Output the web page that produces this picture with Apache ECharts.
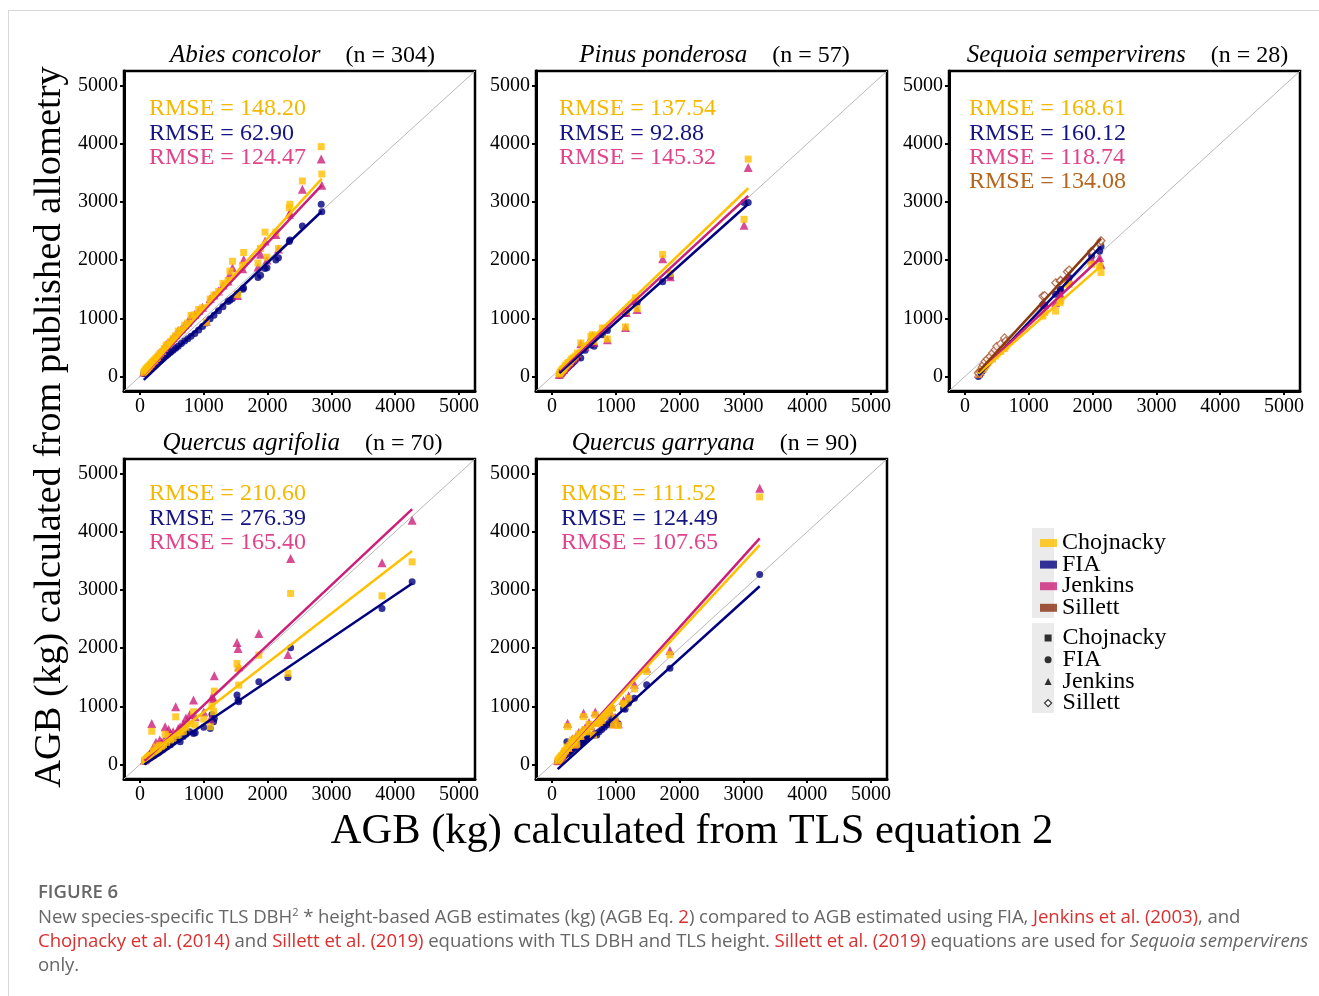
<!DOCTYPE html>
<html>
<head>
<meta charset="utf-8">
<script src="https://cdn.jsdelivr.net/npm/echarts@6/dist/echarts.min.js"></script>
<style>
  html, body { margin: 0; padding: 0; background: #fff; }
  #chart { position: absolute; left: 0; top: 0; width: 1319px; height: 996px; }
  #frame { position: absolute; left: 8px; top: 10px; right: 0; bottom: 0; border-top: 1px solid #d8d8d8; border-left: 1px solid #d8d8d8; pointer-events: none; }
  #caption { position: absolute; left: 38px; top: 879px; font-family: 'Open Sans', sans-serif; color: #666; }
  #caption .fig { font-size: 18.5px; font-weight: 600; line-height: 24px; }
  #caption .body { font-size: 18.6px; line-height: 24px; margin-top: 1px; white-space: nowrap; letter-spacing: -0.08px; }
  #caption a { color: #d9302f; text-decoration: none; }
</style>
</head>
<body>
<div id="chart"></div>
<div id="frame"></div>
<div id="caption">
  <div class="fig">FIGURE 6</div>
  <div class="body">New species-specific TLS DBH<sup style="font-size:11px;line-height:0">2</sup> * height-based AGB estimates (kg) (AGB Eq. <a>2</a>) compared to AGB estimated using FIA, <a>Jenkins et al. (2003)</a>, and<br><a>Chojnacky et al. (2014)</a> and <a>Sillett et al. (2019)</a> equations with TLS DBH and TLS height. <a>Sillett et al. (2019)</a> equations are used for <i>Sequoia sempervirens</i><br>only.</div>
</div>
<script>
// AGB (kg) per tree: x = TLS equation 2, y = published allometries
const abiesX = [60, 70, 80, 90, 100, 110, 120, 130, 145, 160, 175, 190, 210, 230, 250, 270, 295, 320, 350, 380,
  410, 440, 480, 520, 560, 600, 650, 700, 750, 800, 860, 920, 980, 1040, 1100, 1160, 1230, 1300, 1380, 1410,
  1450, 1530, 1610, 1625, 1850, 1890, 1960, 1990, 2130, 2170, 2340, 2350, 2545, 2840, 2850];
const abiesCho = [70, 85, 95, 115, 125, 140, 150, 170, 180, 205, 215, 240, 265, 280, 310, 330, 370, 400, 430, 480,
  540, 550, 600, 650, 700, 780, 800, 880, 920, 1050, 1060, 1150, 1180, 930, 1330, 1400, 1460, 1600, 1650, 1810,
  1980, 1410, 1910, 2130, 1950, 2200, 2480, 2050, 2480, 2200, 2900, 2960, 3360, 3950, 3480];
const abiesFia = [50, 60, 70, 80, 85, 95, 105, 115, 125, 140, 150, 165, 180, 200, 215, 235, 255, 275, 300, 330,
  355, 380, 415, 450, 485, 520, 565, 610, 650, 690, 740, 800, 860, 920, 990, 1050, 1130, 1200, 1290, 1310,
  1340, 1420, 1500, 1520, 1700, 1740, 1856, 1870, 2000, 2040, 2320, 2345, 2586, 2960, 2833];
const abiesJen = [75, 90, 100, 120, 130, 145, 155, 175, 190, 210, 225, 250, 275, 295, 325, 345, 385, 415, 450, 500,
  555, 570, 620, 670, 720, 790, 820, 890, 940, 1040, 1070, 1140, 1190, 950, 1340, 1400, 1470, 1570, 1640, 1760,
  1870, 1390, 1850, 2010, 1880, 2100, 2330, 2000, 2440, 2190, 2790, 2816, 3218, 3736, 3287];
const abiesFitX = [60, 2850];
const abiesFitCho = [40, 3400];
const abiesFitFia = [-60, 2840];
const abiesFitJen = [30, 3290];
const abiesRmse = [148.20, 62.90, 124.47];

const pinusX = [115, 125, 135, 145, 155, 165, 175, 185, 195, 210, 225, 240, 255, 270, 290, 310, 335, 365, 400, 452,
  520, 610, 634, 660, 790, 868, 1153, 1164, 1309, 1335, 1735, 1855, 3010, 3075];
const pinusCho = [40, 60, 75, 95, 100, 120, 135, 130, 160, 180, 195, 215, 235, 240, 270, 300, 320, 350, 400, 575,
  520, 690, 718, 603, 833, 644, 851, 1120, 1351, 1167, 2098, 1770, 2701, 3736];
const pinusFia = [20, 35, 45, 55, 65, 75, 85, 95, 105, 120, 135, 150, 165, 180, 200, 220, 245, 275, 320, 316,
  450, 540, 560, 517, 718, 790, 1080, 1092, 1264, 1270, 1626, 1720, 2989, 2989];
const pinusJen = [35, 55, 70, 90, 95, 115, 130, 125, 155, 170, 185, 205, 225, 235, 260, 290, 310, 340, 390, 560,
  510, 670, 700, 590, 810, 630, 840, 1100, 1320, 1150, 2023, 1713, 2598, 3592];
const pinusFitX = [115, 3075];
const pinusFitCho = [120, 3235];
const pinusFitFia = [60, 2965];
const pinusFitJen = [95, 3105];
const pinusRmse = [137.54, 92.88, 145.32];

const sequoiaX = [210, 237, 270, 289, 316, 350, 395, 432, 474, 500, 560, 621, 640, 1221, 1250, 1421, 1489, 1500,
  1605, 1632, 1984, 2110, 2132];
const sequoiaCho = [40, 80, 120, 150, 180, 230, 280, 300, 350, 390, 430, 480, 520, 1037, 1100, 1123, 1267, 1300,
  1584, 1583, 1930, 1900, 1786];
const sequoiaFia = [0, 40, 90, 130, 170, 220, 300, 340, 390, 420, 470, 530, 560, 1238, 1220, 1411, 1469, 1497,
  1669, 1700, 2074, 2150, 2235];
const sequoiaJen = [50, 90, 140, 180, 220, 270, 330, 400, 430, 460, 500, 560, 590, 1270, 1240, 1266, 1382, 1410,
  1698, 1670, 2016, 2045, 1930];
const sequoiaSil = [60, 86, 160, 200, 259, 300, 345, 403, 460, 518, 560, 662, 610, 1382, 1390, 1611, 1640, 1650,
  1800, 1830, 2150, 2290, 2333];
const sequoiaFitX = [210, 2132];
const sequoiaFitCho = [50, 1900];
const sequoiaFitFia = [20, 2235];
const sequoiaFitJen = [70, 2045];
const sequoiaFitSil = [80, 2370];
const sequoiaRmse = [168.61, 160.12, 118.74, 134.08];

const agrifoliaX = [70, 80, 90, 100, 110, 120, 135, 150, 165, 185, 210, 230, 250, 270, 290, 310, 340, 370, 394, 420,
  450, 480, 520, 560, 600, 630, 680, 720, 780, 839, 866, 1000, 1102, 1128, 1154, 1165, 1521, 1537, 1548, 1863,
  2319, 2361, 3793, 4265];
const agrifoliaCho = [60, 70, 80, 90, 100, 120, 130, 150, 160, 570, 230, 200, 300, 240, 260, 330, 300, 330, 520, 380,
  480, 420, 450, 819, 500, 560, 560, 640, 700, 905, 676, 780, 648, 1000, 906, 1260, 1735, 1650, 1364, 1879,
  1564, 2938, 2898, 3482];
const agrifoliaFia = [50, 60, 65, 70, 80, 90, 100, 110, 120, 130, 150, 160, 180, 190, 200, 220, 240, 260, 290, 300,
  330, 340, 380, 420, 430, 390, 480, 520, 560, 533, 544, 640, 620, 860, 734, 790, 1192, 1105, 1077, 1421,
  1495, 2005, 2680, 3139];
const agrifoliaJen = [75, 85, 100, 110, 120, 140, 160, 180, 200, 705, 290, 260, 380, 300, 330, 420, 380, 400, 648, 470,
  600, 530, 560, 991, 620, 650, 700, 800, 860, 1106, 820, 900, 780, 1163, 1134, 1523, 2096, 1993, 1680, 2251,
  1890, 3540, 3465, 4198];
const agrifoliaFitX = [70, 4265];
const agrifoliaFitCho = [110, 3670];
const agrifoliaFitFia = [0, 3110];
const agrifoliaFitJen = [60, 4387];
const agrifoliaRmse = [210.60, 276.39, 165.40];

const garryanaX = [90, 100, 110, 120, 130, 140, 150, 165, 180, 195, 210, 234, 245, 260, 280, 300, 320, 345, 370, 390,
  420, 450, 480, 495, 520, 550, 580, 610, 651, 678, 703, 740, 780, 820, 860, 900, 938, 964, 990, 1040,
  1120, 1146, 1200, 1292, 1484, 1849, 3255];
const garryanaCho = [60, 75, 90, 100, 120, 130, 150, 160, 190, 220, 240, 300, 650, 280, 330, 380, 420, 390, 450, 334,
  520, 480, 560, 822, 600, 560, 690, 640, 507, 851, 700, 720, 760, 820, 870, 900, 966, 679, 790, 670,
  1052, 1023, 1138, 1299, 1598, 1885, 4598];
const garryanaFia = [50, 60, 70, 80, 90, 100, 110, 120, 140, 150, 165, 391, 180, 200, 220, 240, 260, 280, 300, 320,
  340, 360, 390, 400, 420, 440, 470, 490, 500, 530, 507, 560, 600, 640, 680, 720, 800, 700, 764, 700,
  960, 950, 1050, 1138, 1369, 1655, 3264];
const garryanaJen = [65, 80, 95, 105, 125, 135, 160, 170, 200, 230, 250, 310, 707, 290, 345, 400, 440, 410, 470, 350,
  550, 500, 590, 880, 630, 590, 720, 670, 530, 900, 730, 750, 790, 850, 900, 930, 1000, 700, 810, 700,
  1100, 1060, 1180, 1380, 1655, 1960, 4747];
const garryanaFitX = [90, 3255];
const garryanaFitCho = [30, 3770];
const garryanaFitFia = [-80, 3063];
const garryanaFitJen = [30, 3885];
const garryanaRmse = [111.52, 124.49, 107.65];

const axisMin = -250;
const axisMax = 5250;
const tickValues = [0, 1000, 2000, 3000, 4000, 5000];

const methods = ['Chojnacky', 'FIA', 'Jenkins', 'Sillett'];
const pointColors = ['#ffc000', '#000080', '#cc1f7a', '#a0522d'];
const lineColors = ['#ffc000', '#000080', '#cc1f7a', '#8b3a0e'];
const keyColors = ['#ffc000', '#000080', '#cc1f7a', '#8b2e0f'];
const rmseColors = ['#f5b800', '#141482', '#e0448b', '#b5651e'];
const symbols = ['rect', 'circle', 'triangle', 'diamond'];
const symbolSizes = [7, 7, 9, 8];

const panels = [
  { species: 'Abies concolor', n: 304, x: abiesX, y: [abiesCho, abiesFia, abiesJen],
    fitX: abiesFitX, fit: [abiesFitCho, abiesFitFia, abiesFitJen], rmse: abiesRmse },
  { species: 'Pinus ponderosa', n: 57, x: pinusX, y: [pinusCho, pinusFia, pinusJen],
    fitX: pinusFitX, fit: [pinusFitCho, pinusFitFia, pinusFitJen], rmse: pinusRmse },
  { species: 'Sequoia sempervirens', n: 28, x: sequoiaX, y: [sequoiaCho, sequoiaFia, sequoiaJen, sequoiaSil],
    fitX: sequoiaFitX, fit: [sequoiaFitCho, sequoiaFitFia, sequoiaFitJen, sequoiaFitSil], rmse: sequoiaRmse },
  { species: 'Quercus agrifolia', n: 70, x: agrifoliaX, y: [agrifoliaCho, agrifoliaFia, agrifoliaJen],
    fitX: agrifoliaFitX, fit: [agrifoliaFitCho, agrifoliaFitFia, agrifoliaFitJen], rmse: agrifoliaRmse },
  { species: 'Quercus garryana', n: 90, x: garryanaX, y: [garryanaCho, garryanaFia, garryanaJen],
    fitX: garryanaFitX, fit: [garryanaFitCho, garryanaFitFia, garryanaFitJen], rmse: garryanaRmse }
];

// layout (px)
const boxes = [[124, 71], [536, 71], [949, 71], [124, 459], [536, 459]];
const boxW = 351, boxH = 320;
const rmseLeft = [25, 23, 20, 25, 25];
const rmseTop = [38, 38, 38, 35, 35];
const serif = '"Liberation Serif", "Times New Roman", serif';

const grids = [], xAxes = [], yAxes = [], titles = [], series = [], graphics = [];

panels.forEach(function (p, i) {
  const [left, top] = boxes[i];
  grids.push({ left: left, top: top, width: boxW, height: boxH, show: true,
    borderColor: '#000', borderWidth: 2.5, backgroundColor: '#fff', outerBoundsMode: 'none' });
  const axisBase = {
    gridIndex: i, type: 'value', min: axisMin, max: axisMax,
    axisLine: { show: true, onZero: false, lineStyle: { color: '#000', width: 3 } },
    axisTick: { show: true, customValues: tickValues, length: 4, lineStyle: { color: '#000', width: 2 } },
    axisLabel: { customValues: tickValues, color: '#000', fontFamily: serif, fontSize: 20, margin: 6,
      formatter: function (v) { return String(v); } },
    splitLine: { show: false }
  };
  xAxes.push(Object.assign({}, axisBase));
  yAxes.push(Object.assign({}, axisBase));

  titles.push({
    text: '{i|' + p.species + '}{g|}(n = ' + p.n + ')',
    left: left + boxW / 2 - 2, top: top - 33, textAlign: 'center',
    textStyle: { fontFamily: serif, fontSize: 24, fontWeight: 'normal', color: '#000',
      rich: { i: { fontFamily: serif, fontSize: 25, fontStyle: 'italic', color: '#000' }, g: { width: 25 } } }
  });

  // 1:1 reference line over the full axis range
  series.push({ type: 'line', xAxisIndex: i, yAxisIndex: i, silent: true, symbol: 'none', z: 1,
    data: [[axisMin, axisMin], [axisMax, axisMax]], lineStyle: { color: '#b8b8b8', width: 1 } });

  // draw order: FIA, Jenkins, Chojnacky, Sillett
  [1, 2, 0, 3].forEach(function (m) {
    if (!p.y[m]) return;
    const ys = p.y[m];
    series.push({
      type: 'scatter', name: methods[m], xAxisIndex: i, yAxisIndex: i, silent: true,
      symbol: symbols[m], symbolSize: symbolSizes[m],
      itemStyle: m === 3 ? { color: '#fff', borderColor: pointColors[m], borderWidth: 1.2 } : { color: pointColors[m] },
      data: p.x.map(function (v, k) { return [v, ys[k]]; })
    });
  });
  [1, 2, 0, 3].forEach(function (m) {
    if (!p.fit[m]) return;
    const f = p.fit[m];
    series.push({
      type: 'line', name: methods[m], xAxisIndex: i, yAxisIndex: i, silent: true, symbol: 'none', z: 3,
      lineStyle: { color: lineColors[m], width: 2.5 },
      data: [[p.fitX[0], f[0]], [p.fitX[1], f[1]]]
    });
  });

  p.rmse.forEach(function (v, m) {
    graphics.push({ type: 'text', x: left + rmseLeft[i], y: top + rmseTop[i] + m * 24.3, silent: true,
      style: { text: 'RMSE = ' + v.toFixed(2), fill: rmseColors[m], font: '24px ' + serif,
        textAlign: 'left', textVerticalAlign: 'middle' } });
  });
});

graphics.push(
  { type: 'text', x: 50, y: 427, rotation: Math.PI / 2, silent: true,
    style: { text: 'AGB (kg) calculated from published allometry', fill: '#000', font: '38.5px ' + serif,
      textAlign: 'center', textVerticalAlign: 'middle' } },
  { type: 'text', x: 692, y: 832, silent: true,
    style: { text: 'AGB (kg) calculated from TLS equation 2', fill: '#000', font: '42.5px ' + serif,
      textAlign: 'center', textVerticalAlign: 'middle' } },
  { type: 'rect', z: -1, silent: true, shape: { x: 1032, y: 528, width: 22, height: 90 }, style: { fill: '#ebebeb' } },
  { type: 'rect', z: -1, silent: true, shape: { x: 1032, y: 623, width: 22, height: 90 }, style: { fill: '#ebebeb' } }
);

const legendText = { fontFamily: serif, fontSize: 24, color: '#000' };

const chart = echarts.init(document.getElementById('chart'), null, { renderer: 'canvas' });
chart.setOption({
  animation: false,
  backgroundColor: '#fff',
  textStyle: { fontFamily: serif },
  title: titles,
  grid: grids,
  xAxis: xAxes,
  yAxis: yAxes,
  legend: [
    { orient: 'vertical', left: 1035, top: 526, itemWidth: 17, itemHeight: 8, itemGap: -2.4, selectedMode: false,
      textStyle: Object.assign({ padding: [0, 0, 0, 0] }, legendText),
      data: methods.map(function (m, k) { return { name: m, icon: 'rect', itemStyle: { color: keyColors[k], borderWidth: 0 } }; }) },
    { orient: 'vertical', left: 1039, top: 621, itemWidth: 7, itemHeight: 7, itemGap: -2.3, selectedMode: false,
      textStyle: Object.assign({ padding: [0, 0, 0, 6] }, legendText),
      data: methods.map(function (m, k) {
        return { name: m, icon: symbols[k],
          itemStyle: k === 3 ? { color: '#fff', borderColor: '#000', borderWidth: 1.2 } : { color: '#000', borderWidth: 0 } };
      }) }
  ],
  graphic: graphics,
  series: series
});
</script>
</body>
</html>
